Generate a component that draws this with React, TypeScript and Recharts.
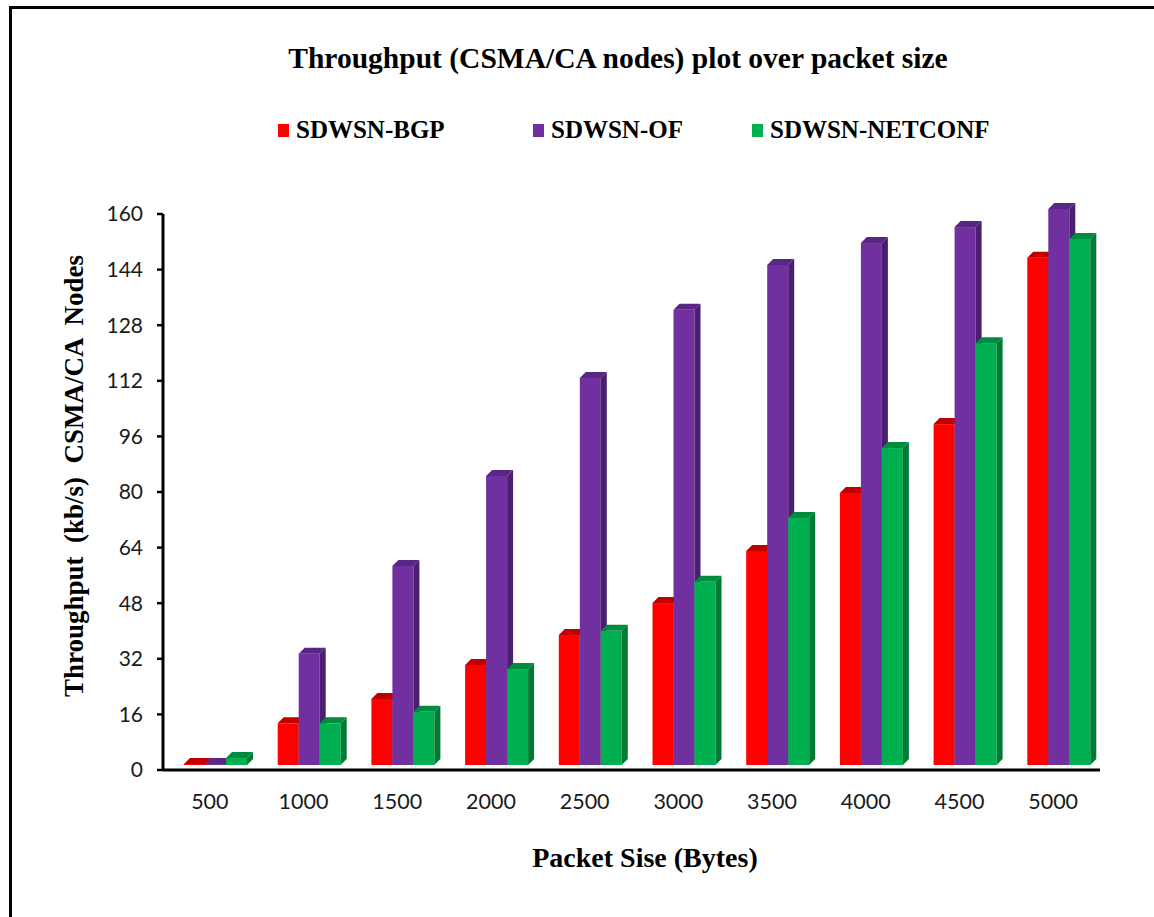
import React from 'react';
import { BarChart, Bar, XAxis, YAxis } from 'recharts';

// Packet sizes (bytes) along the category axis
const packetSizes = ['500', '1000', '1500', '2000', '2500', '3000', '3500', '4000', '4500', '5000'];

// Throughput (kb/s) per protocol
const bgpValues = [0.3, 12, 19, 28.8, 37.4, 46.6, 61.6, 78.3, 98.1, 146];
const ofValues = [0.3, 32, 57.3, 83.2, 111.4, 131, 143.9, 150.2, 154.8, 160];
const netconfValues = [2, 12, 15.3, 27.6, 38.6, 52.7, 71.1, 91.2, 121.4, 151.4];

const yTicks = [0, 16, 32, 48, 64, 80, 96, 112, 128, 144, 160];
const edgeTicks = [0, 1, 2, 3, 4, 5, 6, 7, 8, 9, 10];

const seriesNames = ['SDWSN-BGP', 'SDWSN-OF', 'SDWSN-NETCONF'];
const seriesKeys = ['bgp', 'of', 'netconf'];
const frontColors = ['#FF0000', '#7030A0', '#00B050'];
const topColors = ['#C00000', '#5A2686', '#008C3E'];
const sideColors = ['#A80000', '#4A1F70', '#007A35'];
const legendLefts = [278, 533, 752];

const data = packetSizes.map((size, i) => ({
  size,
  idx: i,
  bgp: bgpValues[i],
  of: ofValues[i],
  netconf: netconfValues[i],
}));

const serif = '"Liberation Serif", "Times New Roman", serif';
const sans = 'Lato, "Open Sans", sans-serif';

// Bar with a front face, a slanted top and a shaded side, lifted onto the chart floor
const make3DBar = (front: string, top: string, side: string) => (props: any) => {
  const { x, y, width, height } = props;
  if (x == null || y == null) return null;
  const depth = 6;
  const shiftX = 6;
  const floor = 5;
  const X = x + shiftX;
  const Y = y - floor;
  const h = Math.max(height, 0);
  const w = width;
  return (
    <g>
      <rect x={X} y={Y} width={w} height={h} fill={front} />
      <polygon
        points={`${X},${Y} ${X + depth},${Y - depth} ${X + w + depth},${Y - depth} ${X + w},${Y}`}
        fill={top}
      />
      <polygon
        points={`${X + w},${Y} ${X + w + depth},${Y - depth} ${X + w + depth},${Y + h - depth} ${X + w},${Y + h}`}
        fill={side}
      />
    </g>
  );
};

export default function App() {
  return (
    <div style={{ position: 'absolute', left: 0, top: 0, width: 1154, height: 917, background: '#fff' }}>
      {/* frame lines */}
      <div style={{ position: 'absolute', left: 9, top: 6, width: 1145, height: 3, background: '#000' }} />
      <div style={{ position: 'absolute', left: 9, top: 6, width: 3, height: 911, background: '#000' }} />

      <div
        style={{
          position: 'absolute',
          left: 618,
          top: 42,
          transform: 'translateX(-50%)',
          whiteSpace: 'nowrap',
          fontFamily: serif,
          fontWeight: 'bold',
          fontSize: 29.5,
          color: '#000',
        }}
      >
        Throughput (CSMA/CA nodes) plot over packet size
      </div>

      {seriesNames.map((name, i) => (
        <div
          key={name}
          style={{
            position: 'absolute',
            left: legendLefts[i],
            top: 116,
            display: 'flex',
            alignItems: 'center',
            whiteSpace: 'nowrap',
            fontFamily: serif,
            fontWeight: 'bold',
            fontSize: 25,
            color: '#000',
          }}
        >
          <span style={{ display: 'inline-block', width: 11, height: 13, background: frontColors[i], marginRight: 7 }} />
          <span>{name}</span>
        </div>
      ))}

      <div
        style={{
          position: 'absolute',
          left: 74,
          top: 476,
          transform: 'translate(-50%, -50%) rotate(-90deg)',
          whiteSpace: 'pre',
          fontFamily: serif,
          fontWeight: 'bold',
          fontSize: 27,
          color: '#000',
        }}
      >
        {'Throughput  (kb/s)  CSMA/CA  Nodes'}
      </div>

      <div
        style={{
          position: 'absolute',
          left: 645,
          top: 842,
          transform: 'translateX(-50%)',
          whiteSpace: 'nowrap',
          fontFamily: serif,
          fontWeight: 'bold',
          fontSize: 28,
          color: '#000',
        }}
      >
        Packet Sise (Bytes)
      </div>

      <div style={{ position: 'absolute', left: 0, top: 0 }}>
        <BarChart
          width={1154}
          height={917}
          data={data}
          margin={{ top: 214, right: 54, bottom: 106, left: 103 }}
          barGap={0}
          barSize={21}
        >
          <XAxis
            xAxisId="bCat"
            dataKey="size"
            height={40}
            axisLine={false}
            tickLine={false}
            tickSize={0}
            tickMargin={23}
            tick={{ fontFamily: sans, fontSize: 21.5, fill: '#1a1a1a' }}
          />
          <XAxis
            xAxisId="aEdges"
            type="number"
            dataKey="idx"
            domain={[0, 10]}
            ticks={edgeTicks}
            interval={0}
            height={1}
            tick={false}
            tickSize={7}
            axisLine={{ stroke: '#000', strokeWidth: 3 }}
            tickLine={{ stroke: '#000', strokeWidth: 3 }}
            allowDataOverflow
          />
          <YAxis
            width={60}
            domain={[0, 160]}
            ticks={yTicks}
            interval={0}
            tickSize={6}
            tickMargin={14}
            axisLine={{ stroke: '#000', strokeWidth: 3 }}
            tickLine={{ stroke: '#000', strokeWidth: 2.5 }}
            tick={{ fontFamily: sans, fontSize: 21, fill: '#1a1a1a' }}
          />
          {seriesKeys.map((key, i) => (
            <Bar
              key={key}
              xAxisId="bCat"
              dataKey={key}
              name={seriesNames[i]}
              fill={frontColors[i]}
              isAnimationActive={false}
              shape={make3DBar(frontColors[i], topColors[i], sideColors[i])}
            />
          ))}
        </BarChart>
      </div>
    </div>
  );
}
